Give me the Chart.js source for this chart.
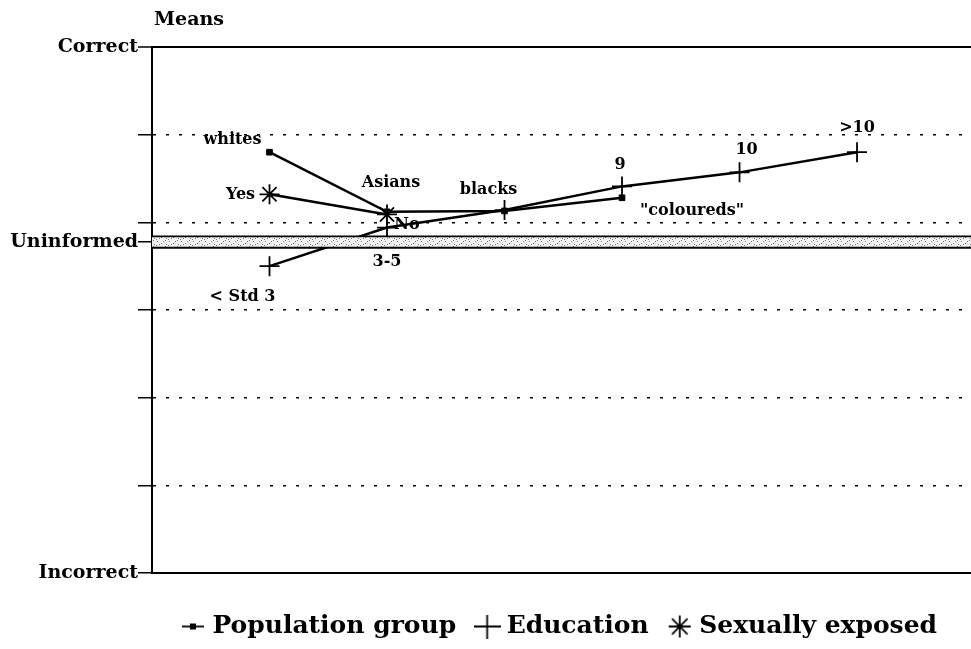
<!DOCTYPE html>
<html><head><meta charset="utf-8">
<script src="https://cdn.jsdelivr.net/npm/chart.js@4/dist/chart.umd.min.js"></script>
<style>html,body{margin:0;padding:0;background:#fff;overflow:hidden}</style>
</head><body>
<canvas id="c" width="971" height="649"></canvas>
<script>
// ---- data ----
const positions = [1, 2, 3, 4, 5, 6];
const populationValues = [4.80, 4.12, 4.13, 4.28];
const populationLabels = ['whites', 'Asians', 'blacks', '"coloureds"'];
const educationValues = [3.50, 3.94, 4.14, 4.41, 4.57, 4.80];
const educationLabels = ['< Std 3', '3-5', '', '9', '10', '>10'];
const exposedValues = [4.32, 4.09];
const exposedLabels = ['Yes', 'No'];
const yTickValues = [0, 1, 2, 3, 3.78, 4, 5, 6];
const yTickNames = { 0: 'Incorrect', 3.78: 'Uninformed', 6: 'Correct' };
const uninformedLevel = 3.78;
const uninformedBand = [3.71, 3.84];
const seriesNames = ['Population group', 'Education', 'Sexually exposed'];
const yTitle = 'Means';

// ---- styles ----
const FONT = '"DejaVu Serif", serif';
const labelOffsets = [
  [[-37, -12], [4, -29], [-16, -21], [70, 13]],
  [[-27, 31], [0, 34], [0, 0], [-2, -22], [7, -23], [0, -24]],
  [[-29, 1], [20, 10]]
];

const ctx = document.getElementById('c').getContext('2d');

function icon(w, h, draw) {
  const c = document.createElement('canvas'); c.width = w; c.height = h;
  const g = c.getContext('2d'); g.strokeStyle = '#000'; g.fillStyle = '#000'; g.lineWidth = 1.8;
  draw(g, w, h); return c;
}
const legendIcons = [
  icon(22, 8, (g, w, h) => { g.beginPath(); g.moveTo(0, h / 2); g.lineTo(w, h / 2); g.stroke(); g.fillRect(w / 2 - 3, h / 2 - 3, 6, 6); }),
  icon(27, 24, (g, w, h) => { g.beginPath(); g.moveTo(0, h / 2); g.lineTo(w, h / 2); g.moveTo(w / 2, 0); g.lineTo(w / 2, h); g.stroke(); }),
  icon(24, 24, (g, w, h) => { g.beginPath(); const r = 11, cx = 12, cy = 12;
    for (let k = 0; k < 4; k++) { const a = k * Math.PI / 4; g.moveTo(cx - r * Math.cos(a), cy - r * Math.sin(a)); g.lineTo(cx + r * Math.cos(a), cy + r * Math.sin(a)); }
    g.stroke(); })
];

function makePattern() {
  const p = document.createElement('canvas'); p.width = 12; p.height = 6;
  const g = p.getContext('2d');
  g.fillStyle = '#f2f2f2'; g.fillRect(0, 0, 12, 6);
  g.fillStyle = '#7a7a7a';
  [[1, 1], [5, 3], [9, 0], [3, 4], [10, 4], [7, 1], [0, 5]].forEach(([a, b]) => g.fillRect(a, b, 1, 1));
  return ctx.createPattern(p, 'repeat');
}
const bandPattern = makePattern();

const overlay = {
  id: 'overlay',
  afterDatasetsDraw(chart) {
    const { ctx, chartArea: a, scales: { y } } = chart;
    const yt = y.getPixelForValue(uninformedBand[1]);
    const yb = y.getPixelForValue(uninformedBand[0]);
    ctx.save();
    ctx.fillStyle = bandPattern;
    ctx.fillRect(a.left, yt, a.right - a.left, yb - yt);
    ctx.strokeStyle = '#000'; ctx.lineWidth = 1.8;
    ctx.beginPath();
    ctx.moveTo(a.left, yt); ctx.lineTo(a.right, yt);
    ctx.moveTo(a.left, yb); ctx.lineTo(a.right, yb);
    ctx.stroke();
    ctx.fillStyle = '#000'; ctx.textAlign = 'center'; ctx.textBaseline = 'middle';
    ctx.font = 'bold 16px ' + FONT;
    chart.data.datasets.forEach((ds, di) => {
      chart.getDatasetMeta(di).data.forEach((pt, i) => {
        const t = ds.pointNames[i]; if (!t) return;
        const o = labelOffsets[di][i];
        ctx.fillText(t, pt.x + o[0], pt.y + o[1]);
      });
    });
    ctx.font = 'bold 19px ' + FONT;
    ctx.fillText(yTitle, a.left + 37, 20);
    ctx.restore();
  }
};

const toPts = (vals) => vals.map((v, i) => ({ x: positions[i], y: v }));
const base = { borderColor: '#000', backgroundColor: '#000', borderWidth: 2.5, tension: 0,
  pointBorderColor: '#000', pointBackgroundColor: '#000' };

new Chart(ctx, {
  type: 'line',
  data: {
    datasets: [
      Object.assign({}, base, { label: seriesNames[0], data: toPts(populationValues), pointNames: populationLabels,
        pointStyle: 'rect', pointRadius: 4, pointBorderWidth: 1 }),
      Object.assign({}, base, { label: seriesNames[1], data: toPts(educationValues), pointNames: educationLabels,
        pointStyle: 'cross', pointRadius: 10, pointBorderWidth: 1.8 }),
      Object.assign({}, base, { label: seriesNames[2], data: toPts(exposedValues), pointNames: exposedLabels,
        pointStyle: 'star', pointRadius: 10, pointBorderWidth: 1.8 })
    ]
  },
  options: {
    responsive: false, animation: false, devicePixelRatio: 1,
    layout: { autoPadding: false, padding: { left: 0, right: 0, top: 47, bottom: 0 } },
    plugins: {
      tooltip: { enabled: false },
      legend: {
        position: 'bottom', fullSize: false,
        labels: {
          usePointStyle: true, pointStyleWidth: 14, padding: 24, color: '#000',
          font: { family: FONT, size: 25, weight: 'bold' },
          generateLabels(chart) {
            const items = Chart.defaults.plugins.legend.labels.generateLabels(chart);
            items.forEach((it, i) => { it.pointStyle = legendIcons[i]; it.lineWidth = 0; });
            return items;
          }
        }
      }
    },
    scales: {
      x: {
        type: 'linear', min: 0, max: 6.97,
        grid: { display: false },
        ticks: { display: false },
        border: { display: true, color: '#000', width: 2 },
        afterFit(s) { s.height = 17; }
      },
      y: {
        min: 0, max: 6,
        afterBuildTicks(s) { s.ticks = yTickValues.map(v => ({ value: v })); },
        ticks: {
          autoSkip: false, padding: 0, color: '#000',
          font: { family: FONT, size: 19, weight: 'bold' },
          callback: (v) => yTickNames[v] || ''
        },
        grid: {
          color: (c) => (c.tick && c.tick.value === uninformedLevel) ? 'rgba(0,0,0,0)' : '#000',
          tickColor: '#000',
          lineWidth: (c) => (c.tick && c.tick.value === 6) ? 2 : 1.5,
          tickLength: 14, tickWidth: 1.5
        },
        border: {
          color: '#000', width: 2,
          dash: (c) => (c.tick && c.tick.value > 0 && c.tick.value < 6) ? [3, 10] : []
        },
        afterFit(s) { s.width = 152; }
      }
    }
  },
  plugins: [overlay]
});
</script>
</body></html>
